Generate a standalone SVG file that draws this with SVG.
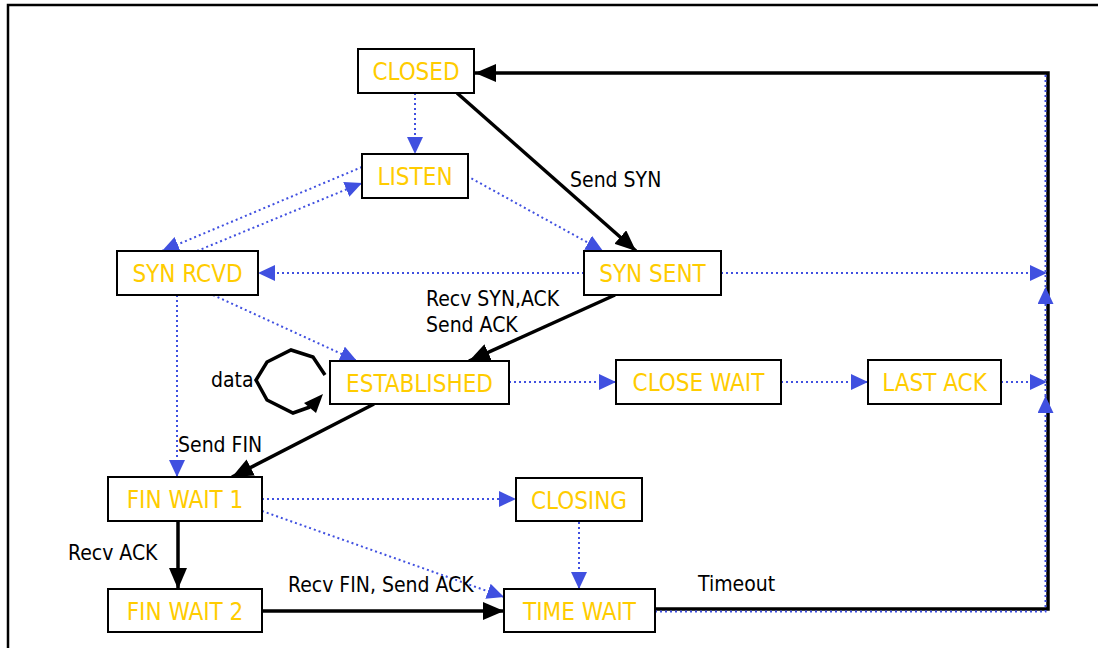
<svg xmlns="http://www.w3.org/2000/svg" width="1098" height="648" viewBox="0 0 1098 648">
<style>
.box{fill:#fff;stroke:#000;stroke-width:2}
.nt{font-family:"DejaVu Sans Condensed","DejaVu Sans",sans-serif;font-size:24px;fill:#FFCC00;text-anchor:middle}
.lb{font-family:"DejaVu Sans Condensed","DejaVu Sans",sans-serif;font-size:21px;fill:#000}
.dot{fill:none;stroke:#4050E0;stroke-width:2;stroke-dasharray:2 3}
.solid{fill:none;stroke:#000;stroke-width:3.5}
</style>
<defs>
<marker id="ab" viewBox="0 0 17 16" refX="17" refY="8" markerWidth="17" markerHeight="16" markerUnits="userSpaceOnUse" orient="auto"><path d="M0,0 L17,8 L0,16 z" fill="#4050E0"/></marker>
<marker id="ak" viewBox="0 0 21 18" refX="21" refY="9" markerWidth="21" markerHeight="18" markerUnits="userSpaceOnUse" orient="auto"><path d="M0,0 L21,9 L0,18 z" fill="#000"/></marker>
</defs>
<rect x="8" y="5" width="1100" height="660" fill="none" stroke="#000" stroke-width="2.5"/>
<g id="connectors">
<path class="dot" d="M415,93 L415,154" marker-end="url(#ab)"/>
<path class="dot" d="M467,176 L603,251" marker-end="url(#ab)"/>
<path class="dot" d="M362,167 L162,251" marker-end="url(#ab)"/>
<path class="dot" d="M197,251 L362,183" marker-end="url(#ab)"/>
<path class="dot" d="M584,273 L258,273" marker-end="url(#ab)"/>
<path class="dot" d="M213,295 L357,361" marker-end="url(#ab)"/>
<path class="dot" d="M177,295 L177,477" marker-end="url(#ab)"/>
<path class="dot" d="M509,382 L616,382" marker-end="url(#ab)"/>
<path class="dot" d="M781,382 L868,382" marker-end="url(#ab)"/>
<path class="dot" d="M1001,382 L1047,382" marker-end="url(#ab)"/>
<path class="dot" d="M721,273 L1047,273" marker-end="url(#ab)"/>
<path class="dot" d="M262,499 L516,499" marker-end="url(#ab)"/>
<path class="dot" d="M262,511 L504,597" marker-end="url(#ab)"/>
<path class="dot" d="M579,522 L579,589" marker-end="url(#ab)"/>
<path class="solid" d="M457,93 L636,251" marker-end="url(#ak)"/>
<path class="solid" d="M615,295 L469,361" marker-end="url(#ak)"/>
<path class="solid" d="M374,404 L232,477" marker-end="url(#ak)"/>
<path class="solid" d="M178,521 L178,589" marker-end="url(#ak)"/>
<path class="solid" d="M262,611 L504,611" marker-end="url(#ak)"/>
<path class="solid" d="M655,609 L1048,609 L1048,73 L475,73" marker-end="url(#ak)"/>
<path class="dot" d="M655,611.5 L1045.5,611.5 L1045.5,396" marker-end="url(#ab)"/>
<path class="dot" d="M1045.5,396 L1045.5,287" marker-end="url(#ab)"/>
<path class="dot" d="M1045.5,287 L1045.5,74"/>
<path class="solid" d="M325,375 L313,357 L291,350 L267,362 L256,380 L267,400 L293,413 L310,407"/>
<polygon points="323,394 304,403 316,413" fill="#000"/>
</g>
<g id="labels">
<text class="lb" x="570" y="187">Send SYN</text>
<text class="lb" x="426" y="306">Recv SYN,ACK</text>
<text class="lb" x="426" y="332">Send ACK</text>
<text class="lb" x="211" y="387">data</text>
<text class="lb" x="178" y="452">Send FIN</text>
<text class="lb" x="68" y="560">Recv ACK</text>
<text class="lb" x="288" y="592">Recv FIN, Send ACK</text>
<text class="lb" x="698" y="591">Timeout</text>
</g>
<g id="closed"><rect class="box" x="358" y="49" width="116" height="44"/><text class="nt" x="416" y="80">CLOSED</text></g>
<g id="listen"><rect class="box" x="362" y="154" width="106" height="44"/><text class="nt" x="415" y="185">LISTEN</text></g>
<g id="syn-rcvd"><rect class="box" x="117" y="251" width="141" height="44"/><text class="nt" x="187.5" y="282">SYN RCVD</text></g>
<g id="syn-sent"><rect class="box" x="584" y="251" width="137" height="44"/><text class="nt" x="652.5" y="282">SYN SENT</text></g>
<g id="established"><rect class="box" x="330" y="361" width="179" height="43"/><text class="nt" x="419.5" y="391.5">ESTABLISHED</text></g>
<g id="close-wait"><rect class="box" x="616" y="360" width="165" height="44"/><text class="nt" x="698.5" y="391">CLOSE WAIT</text></g>
<g id="last-ack"><rect class="box" x="868" y="360" width="133" height="44"/><text class="nt" x="934.5" y="391">LAST ACK</text></g>
<g id="fin-wait-1"><rect class="box" x="108" y="477" width="154" height="44"/><text class="nt" x="185" y="508">FIN WAIT 1</text></g>
<g id="closing"><rect class="box" x="516" y="478" width="126" height="43"/><text class="nt" x="579" y="508.5">CLOSING</text></g>
<g id="fin-wait-2"><rect class="box" x="108" y="589" width="154" height="43"/><text class="nt" x="185" y="619.5">FIN WAIT 2</text></g>
<g id="time-wait"><rect class="box" x="504" y="589" width="151" height="43"/><text class="nt" x="579.5" y="619.5">TIME WAIT</text></g>
</svg>
